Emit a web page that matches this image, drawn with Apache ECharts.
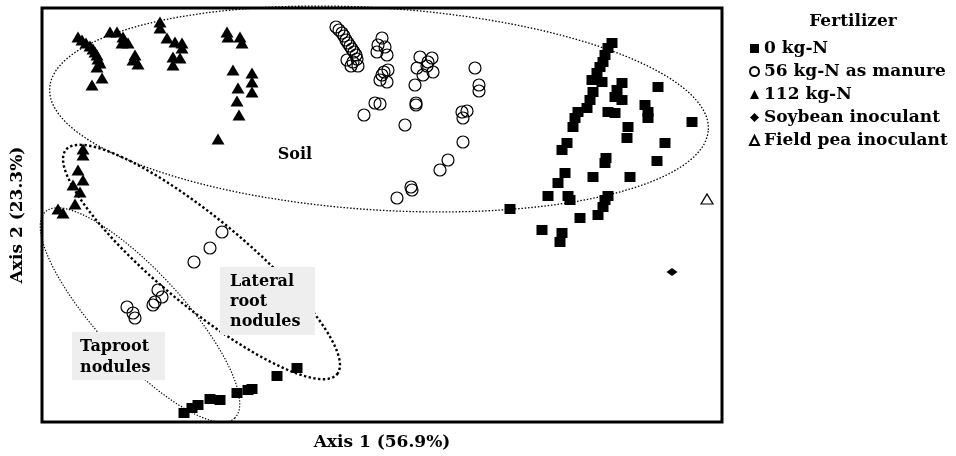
<!DOCTYPE html>
<html><head><meta charset="utf-8">
<script src="https://cdn.jsdelivr.net/npm/echarts@6/dist/echarts.min.js"></script>
<style>html,body{margin:0;padding:0;background:#fff}#c{width:956px;height:456px}</style>
</head><body><div id="c"></div>
<script>
// Ordination scores (arbitrary units, Axis 1 -> x, Axis 2 -> y)
const seriesNames = ['0 kg-N', '56 kg-N as manure', '112 kg-N', 'Soybean inoculant', 'Field pea inoculant'];
const axisNames = ['Axis 1 (56.9%)', 'Axis 2 (23.3%)'];
const legendTitle = 'Fertilizer';

const kgN0 = [
  [570,379],[566,374],[563,367],[561,360],[558,355],[555,349],[550,342],[560,340],[551,330],[548,322],
  [545,314],[536,310],[533,304],[531,295],[525,279],[520,272],[523,249],[516,239],[506,226],[526,226],
  [528,222],[468,213],[566,226],[563,222],[561,215],[556,207],[538,204],[500,192],[520,189],[518,180],
  [580,339],[575,332],[573,325],[580,322],[566,310],[573,309],[586,295],[585,284],[603,317],[606,310],
  [606,304],[616,335],[650,300],[623,279],[564,264],[563,259],[615,261],[551,245],[588,245],
  [255,54],[235,46],[210,33],[206,32],[195,29],[178,22],[168,23],[156,17],[150,14],[142,9]
];
const kgN56 = [
  [294,395],[297,392],[300,389],[302,386],[304,382],[306,379],[308,376],[310,373],[312,370],[314,367],
  [315,363],[311,360],[309,356],[316,356],[305,362],
  [340,384],[336,377],[343,375],[335,370],[345,367],[346,352],[340,347],[345,340],[338,342],[342,350],
  [378,365],[390,364],[375,354],[385,356],[391,350],[381,347],[386,360],[373,337],
  [333,319],[338,318],[322,307],[374,319],[374,317],[363,297],[433,354],[437,337],[437,331],[420,310],
  [425,311],[421,304],[421,280],[406,262],[398,252],[369,235],[370,232],[355,224],
  [180,190],[168,174],[152,160],[116,132],[120,125],[113,120],[111,117],[85,115],[91,109],[93,104]
];
const kgN112 = [
  [36,385],[40,382],[44,379],[48,376],[51,373],[53,370],[55,367],[56,363],[58,359],[55,355],[60,344],[50,337],
  [68,390],[75,390],[81,385],[80,379],[86,379],[93,367],[91,362],[96,358],
  [118,400],[118,394],[125,384],[133,380],[140,379],[140,374],[131,365],[138,364],[131,357],
  [185,390],[186,385],[198,385],[200,379],[191,352],[210,349],[210,340],[196,334],[210,330],[195,321],[197,307],[176,283],
  [41,273],[41,267],[36,252],[41,242],[31,237],[38,230],[33,218],[16,213],[21,209]
];
const soybean = [[630,150]];
const fieldPea = [[665,223]];

// Group ellipses: [centre x, centre y, semi-major, semi-minor, rotation in degrees]
const ellipseNames = ['Soil', 'Lateral root nodules', 'Taproot nodules'];
const ellipses = [
  [337,313,330,101,-3.65],
  [159.5,160,176,44,-39.6],
  [98,107,140,43,-47.5]
];
</script>
<script>
const FONT = "'DejaVu Serif', 'Liberation Serif', serif";
const ellipseStyles = [
  {lineWidth: 1.3, lineDash: [1.5, 1.8]},
  {lineWidth: 2.4, lineDash: [2.4, 2.4]},
  {lineWidth: 1.2, lineDash: [1.3, 1.7]}
];
const chart = echarts.init(document.getElementById('c'), null, {renderer: 'canvas'});
const hidden = {axisLine: {show: false}, axisTick: {show: false}, axisLabel: {show: false}, splitLine: {show: false}};
const nameStyle = {fontFamily: FONT, fontWeight: 'bold', fontSize: 17, color: '#000'};
const solid = {color: '#000', opacity: 1};
const hollow = {color: 'rgba(255,255,255,0)', borderColor: '#000', borderWidth: 1.2, opacity: 1};

chart.setOption({
  backgroundColor: '#fff',
  animation: false,
  grid: {left: 42, top: 8, width: 680, height: 414, containLabel: false, outerBoundsMode: 'none',
    show: true, borderColor: '#000', borderWidth: 3, backgroundColor: 'transparent'},
  xAxis: Object.assign({type: 'value', min: 0, max: 680, name: axisNames[0], nameLocation: 'middle', nameGap: 12, nameTextStyle: nameStyle}, hidden),
  yAxis: Object.assign({type: 'value', min: 0, max: 414, name: axisNames[1], nameLocation: 'middle', nameGap: 16, nameTextStyle: nameStyle}, hidden),
  legend: {
    data: seriesNames, orient: 'vertical', left: 744, top: 35, itemWidth: 9, itemHeight: 9, itemGap: 6,
    textStyle: {fontFamily: FONT, fontWeight: 'bold', fontSize: 17, color: '#000'}
  },
  series: [
    {name: seriesNames[0], type: 'scatter', data: kgN0, symbol: 'rect', symbolSize: [11, 10], itemStyle: solid},
    {name: seriesNames[1], type: 'scatter', data: kgN56, symbol: 'circle', symbolSize: 12, itemStyle: hollow},
    {name: seriesNames[2], type: 'scatter', data: kgN112, symbol: 'triangle', symbolSize: [13, 11], itemStyle: solid},
    {name: seriesNames[3], type: 'scatter', data: soybean, symbol: 'diamond', symbolSize: [11, 8], itemStyle: solid},
    {name: seriesNames[4], type: 'scatter', data: fieldPea, symbol: 'triangle', symbolSize: [12, 10], itemStyle: hollow},
    {
      name: 'groups', type: 'custom', silent: true, clip: false, data: ellipses,
      encode: {x: 0, y: 1},
      renderItem: function (params, api) {
        const cx = api.value(0), cy = api.value(1), a = api.value(2), b = api.value(3);
        const ang = api.value(4) * Math.PI / 180;
        const pts = [];
        for (let i = 0; i < 180; i++) {
          const t = i / 180 * Math.PI * 2;
          const dx = a * Math.cos(t), dy = b * Math.sin(t);
          pts.push(api.coord([cx + dx * Math.cos(ang) - dy * Math.sin(ang), cy + dx * Math.sin(ang) + dy * Math.cos(ang)]));
        }
        const st = ellipseStyles[params.dataIndex];
        return {type: 'polygon', shape: {points: pts}, style: {fill: 'none', stroke: '#000', lineWidth: st.lineWidth, lineDash: st.lineDash}};
      }
    }
  ]
});

// Group labels anchored in data space
const px = (x, y) => chart.convertToPixel({gridIndex: 0}, [x, y]);
const lbl = {fontFamily: FONT, fontWeight: 'bold', fontSize: 16, fill: '#000'};
const soilP = px(253, 267);
const latTL = px(178, 155), latBR = px(273, 87);
const tapTL = px(30, 90), tapBR = px(123, 42);
chart.setOption({
  graphic: [
    {type: 'text', x: 853, y: 22, style: Object.assign({text: legendTitle, align: 'center', verticalAlign: 'middle'}, lbl, {fontSize: 17})},
    {type: 'text', x: soilP[0], y: soilP[1], z: 10, style: Object.assign({text: ellipseNames[0], align: 'center', verticalAlign: 'middle'}, lbl)},
    {type: 'rect', z: 5, shape: {x: latTL[0], y: latTL[1], width: latBR[0] - latTL[0], height: latBR[1] - latTL[1]}, style: {fill: '#eeeeee'}},
    {type: 'text', z: 10, x: latTL[0] + 10, y: latTL[1] + 5, style: Object.assign({text: 'Lateral\nroot\nnodules', lineHeight: 20, verticalAlign: 'top'}, lbl)},
    {type: 'rect', z: 5, shape: {x: tapTL[0], y: tapTL[1], width: tapBR[0] - tapTL[0], height: tapBR[1] - tapTL[1]}, style: {fill: '#eeeeee'}},
    {type: 'text', z: 10, x: tapTL[0] + 8, y: tapTL[1] + 4, style: Object.assign({text: 'Taproot\nnodules', lineHeight: 21, verticalAlign: 'top'}, lbl)}
  ]
});
</script>
</body></html>
